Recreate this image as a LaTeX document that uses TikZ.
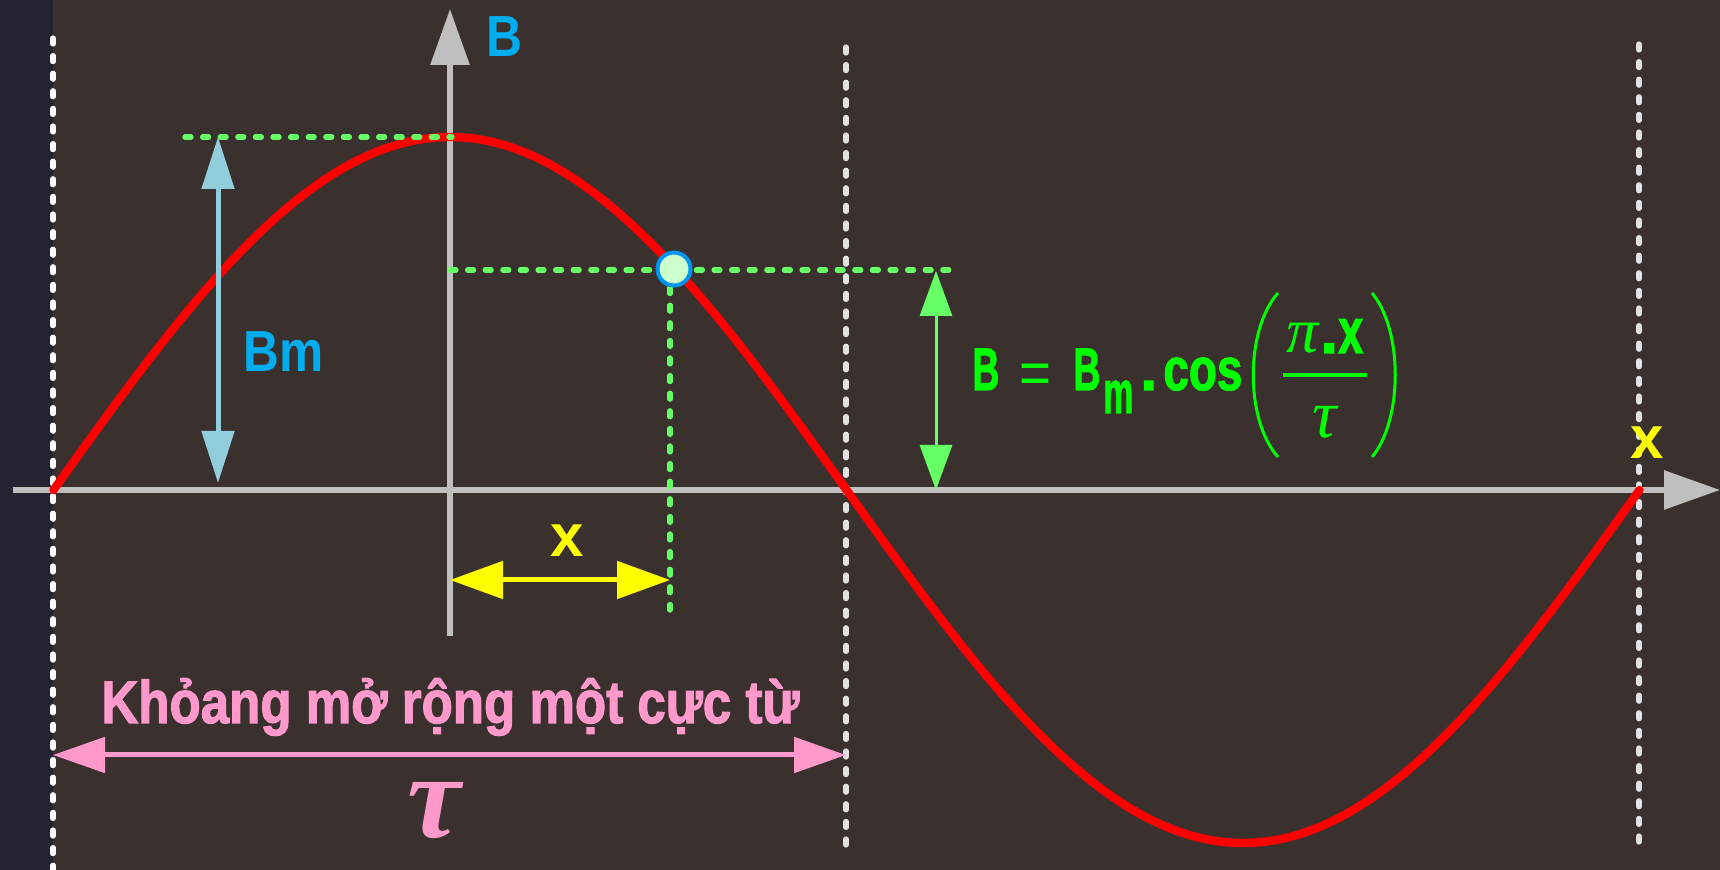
\documentclass[tikz,border=0pt]{standalone}
\usepackage{fontspec}
\usepackage{graphicx}
\setmainfont{Liberation Sans}
\newfontfamily\grkfont{Liberation Serif}
\newfontfamily\heavyfont{Liberation Sans}[BoldFeatures={FakeBold=2}]
\usetikzlibrary{arrows.meta}
\definecolor{bgmain}{HTML}{3A312F}
\definecolor{bgleft}{HTML}{242332}
\definecolor{axisgray}{HTML}{BFBFBF}
\definecolor{curvered}{HTML}{FF0000}
\definecolor{lgreen}{HTML}{66FF66}
\definecolor{fgreen}{HTML}{00FF00}
\definecolor{bmblue}{HTML}{92CDDC}
\definecolor{lblblue}{HTML}{00AEEF}
\definecolor{xyellow}{HTML}{FFFF00}
\definecolor{tpink}{HTML}{FF99CC}
\definecolor{ptfill}{HTML}{CCFFCC}
\definecolor{ptring}{HTML}{0096F0}
\definecolor{guidegray}{HTML}{E2E2E2}
\tikzset{
  guide/.style={line width=2.6pt, line cap=round, dash pattern=on 3pt off 5.8pt},
  gdash/.style={lgreen, line width=2.6pt, line cap=round, dash pattern=on 3pt off 5.8pt},
  axisline/.style={axisgray, line width=3pt, -{Triangle[length=28pt,width=19pt]}},
  wave/.style={curvered, line width=4.2pt, line cap=round},
  bmarrow/.style={bmblue, line width=2.5pt, {Triangle[length=26pt,width=16pt]}-{Triangle[length=26pt,width=16pt]}},
  grarrow/.style={lgreen, line width=1.5pt, {Triangle[length=22.5pt,width=16pt]}-{Triangle[length=22.5pt,width=16pt]}},
  yarrow/.style={xyellow, line width=2.5pt, {Triangle[length=26.5pt,width=18.5pt]}-{Triangle[length=26.5pt,width=18.5pt]}},
  parrow/.style={tpink, line width=2.5pt, {Triangle[length=26pt,width=17.5pt]}-{Triangle[length=26pt,width=17.5pt]}},
  lbl/.style={inner sep=0pt, anchor=base west, font=\fontsize{29pt}{30pt}\selectfont\bfseries},
  flbl/.style={inner sep=0pt, anchor=base west, text=fgreen, font=\fontsize{30pt}{31pt}\selectfont\heavyfont\bfseries},
  ptstyle/.style={circle, fill=ptfill, draw=ptring, line width=2pt, minimum size=16.5pt, inner sep=0pt},
  paren/.style={fgreen, line width=1.5pt}
}
\begin{document}
\begin{tikzpicture}[x=0.5pt,y=-0.5pt]
\fill[bgmain] (0,0) rectangle (1720,870);
\fill[bgleft] (0,0) rectangle (53,870);
\useasboundingbox (0,0) rectangle (1720,870);

% axes
\coordinate (xs) at (13,490);
\coordinate (xe) at (1720,490);
\coordinate (ys) at (450,636);
\coordinate (ye) at (450,9);
\draw[axisline] (xs) -- (xe);
\draw[axisline] (ys) -- (ye);

% guides
\coordinate (g1t) at (53,38);   \coordinate (g1b) at (53,872);
\coordinate (g2t) at (846,47);  \coordinate (g2b) at (846,845);
\coordinate (g3t) at (1639,44); \coordinate (g3b) at (1639,845);
\draw[guide, white] (g1t) -- (g1b);
\draw[guide, guidegray] (g2t) -- (g2b);
\draw[guide, guidegray] (g3t) -- (g3b);

% curve
\draw[wave] plot[domain=53.5:1639.5, samples=240, smooth] (\x, {490 - 353*cos((\x-450)/793*180)});

% green guides
\coordinate (pkl) at (185,137);
\coordinate (pk) at (452,137);
\coordinate (hm1) at (450,270);
\coordinate (hm2) at (952,270);
\coordinate (vm1) at (670,270);
\coordinate (vm2) at (670,610);
\draw[gdash] (pkl) -- (pk);
\draw[gdash] (hm1) -- (hm2);
\draw[gdash] (vm1) -- (vm2);

% arrows
\coordinate (bmt) at (218,137);
\coordinate (bmb) at (218,483);
\draw[bmarrow] (bmt) -- (bmb);
\coordinate (gat) at (936,271);
\coordinate (gab) at (936,490);
\draw[grarrow] (gat) -- (gab);
\coordinate (yal) at (450,580);
\coordinate (yar) at (670,580);
\draw[yarrow] (yal) -- (yar);
\coordinate (pal) at (53,755);
\coordinate (par) at (846,755);
\draw[parrow] (pal) -- (par);

% point
\node[ptstyle] (P) at (674,269) {};

% labels
\node[lbl, text=lblblue] (lB) at (486,57) {\resizebox{18pt}{\height}{B}};
\node[lbl, text=lblblue] (lBm) at (243,372) {\resizebox{40pt}{\height}{Bm}};
\node[lbl, text=xyellow, font=\fontsize{30pt}{31pt}\selectfont\bfseries] (lx) at (550,557) {x};
\node[lbl, text=xyellow, font=\fontsize{30pt}{31pt}\selectfont\bfseries] (lx2) at (1630,459) {x};

% formula
\node[flbl] (fB1) at (972,390) {\resizebox{13.5pt}{\height}{B}};
\node[flbl, font=\fontsize{30pt}{31pt}\selectfont] (feq) at (1019,394) {\resizebox{16pt}{\height}{=}};
\node[flbl] (fB2) at (1073,390) {\resizebox{13.5pt}{\height}{B}};
\node[flbl] (fm) at (1103,413) {\resizebox{15pt}{\height}{m}};
\node[flbl] (fdot) at (1140,390) {.};
\node[flbl] (fcos) at (1163,390) {\resizebox{39.5pt}{\height}{cos}};
\draw[paren] (1278,293) .. controls (1245,330) and (1245,420) .. (1278,457);
\draw[paren] (1372,293) .. controls (1403,330) and (1403,420) .. (1372,457);
\draw[fgreen, line width=1.6pt] (1283,375) -- (1367,375);
\node[flbl, font=\fontsize{32pt}{33pt}\selectfont\grkfont\itshape] (fpi) at (1286,353) {π};
\node[flbl, font=\fontsize{32pt}{33pt}\selectfont\heavyfont\bfseries] (fx) at (1320,353) {.\resizebox{12.5pt}{\height}{x}};
\node[inner sep=0pt, anchor=base, text=fgreen, font=\fontsize{34pt}{35pt}\selectfont\grkfont\itshape] (ftau) at (1325,438) {τ};

% pole pitch
\node[lbl, text=tpink, font=\fontsize{30pt}{31pt}\selectfont\heavyfont\bfseries] (ptxt) at (101,723) {\resizebox{349pt}{\height}{Khỏang mở rộng một cực từ}};
\node[inner sep=0pt, anchor=base, text=tpink, font=\fontsize{60pt}{60pt}\selectfont\grkfont\bfseries\itshape] (ptau) at (434,838) {τ};
\end{tikzpicture}
\end{document}
